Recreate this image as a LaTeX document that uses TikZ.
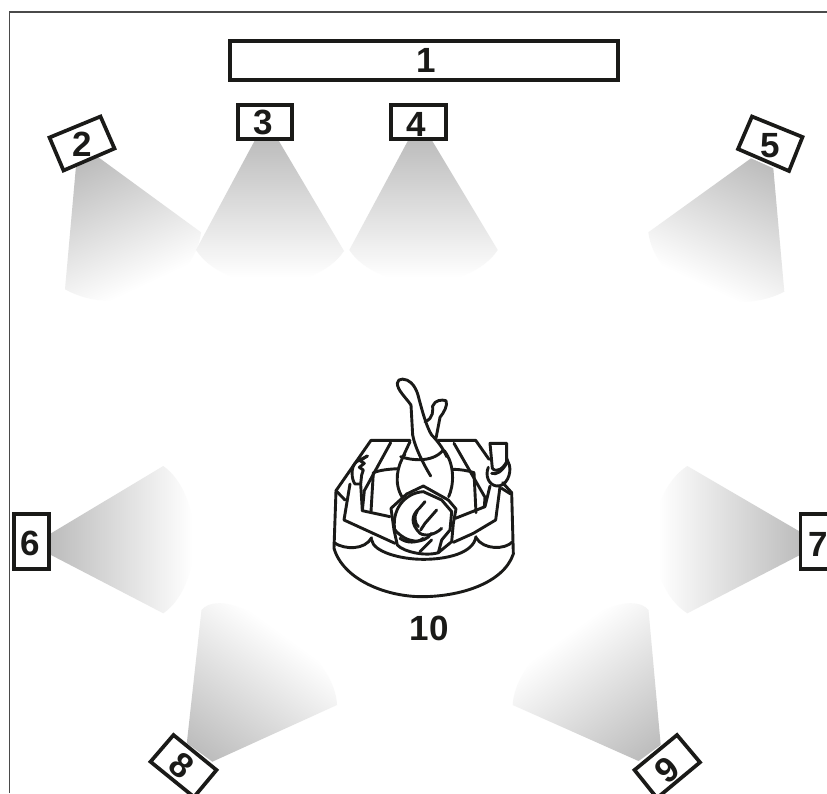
\documentclass[tikz,border=0pt]{standalone}
\usepackage{fontspec}
\setmainfont{Liberation Sans}
\definecolor{ink}{HTML}{1A1A18}
\definecolor{frameg}{HTML}{4A4A4A}
\definecolor{beamA}{gray}{0.74}
\definecolor{beamB}{gray}{0.85}
\tikzset{
  x=1pt,y=-1pt,
  spk/.style={draw=ink,line width=3.7pt,fill=white,line join=miter},
  num/.style={font=\fontsize{35}{35}\selectfont\bfseries,text=ink,inner sep=0pt},
  fig/.style={draw=ink,line width=2.9pt,line cap=round,line join=round},
}
\newcommand{\beamshape}[6]{% path, apex x, apex y, angle, length, start colour
  \begin{scope}
    \clip #1;
    \begin{scope}[transform canvas={shift={(#2,#3)},rotate=#4}]
      \shade[top color=#6,middle color=beamB,bottom color=white] (-320,0) rectangle (320,#5);
    \end{scope}
  \end{scope}
}
\begin{document}
\begin{tikzpicture}
\useasboundingbox (0,0) rectangle (827,793);
\clip (0,0) rectangle (827,793);
\fill[white] (0,0) rectangle (827,793);
\draw[frameg,line width=1.4pt] (9.5,793) -- (9.5,12) -- (827,12);

% beams
\beamshape{(76,166) -- (98,157) -- (201,232.3) .. controls (195,285) and (120,320) .. (65,289.3) -- cycle}{87}{162}{25}{136}{beamA}
\beamshape{(255,140) -- (278.3,140) -- (344,251) .. controls (315,294) and (225,294) .. (196,250) -- cycle}{267}{140}{0}{138}{beamA}
\beamshape{(408.3,140) -- (431.7,140) -- (497.7,250) .. controls (469,293) and (378,293) .. (349.3,250) -- cycle}{420}{140}{0}{138}{beamA}
\beamshape{(751,158.3) -- (773.3,168.3) -- (784.3,291.7) .. controls (730,320) and (655,285) .. (648.3,232.3) -- cycle}{762}{163}{-25}{136}{beamA}
\beamshape{(51,533.3) -- (163.3,466) .. controls (204,495) and (204,585) .. (163.3,613.3) -- (51,555) -- cycle}{51}{544}{90}{142}{beamA}
\beamshape{(800,531.7) -- (687.3,466) .. controls (643,495) and (643,585) .. (687.3,613.3) -- (800,555) -- cycle}{800}{544}{-90}{142}{beamA}
\beamshape{(186.6,745) -- (201.5,610) .. controls (208,602) and (222,602) .. (232,605) .. controls (275,618) and (335,660) .. (337,705) -- (211.7,762) -- cycle}{199}{752}{144}{145}{beamA}
\beamshape{(660.7,745) -- (648.5,610) .. controls (642,602) and (628,602) .. (618,605) .. controls (575,618) and (515,660) .. (512.7,705) -- (640.7,762) -- cycle}{651}{752}{-144}{145}{beamA}

% speakers
\draw[spk] (229.8,40.8) rectangle (617.8,80.2);
\node[num] (n1) at (426,60.5) {1};
\draw[spk] (49.5,137.5) -- (100.5,116.5) -- (114.5,148.5) -- (63.5,170.5) -- cycle;
\node[num] (n2) at (82,144.5) {2};
\draw[spk] (237.8,104.8) rectangle (291.8,138.8);
\node[num] (n3) at (263.5,122) {3};
\draw[spk] (390.8,104.8) rectangle (445.8,138.8);
\node[num] (n4) at (416.5,124) {4};
\draw[spk] (752,116.5) -- (802.5,137) -- (789,171) -- (738,149) -- cycle;
\node[num] (n5) at (770,146) {5};
\draw[spk] (13.8,513.8) rectangle (49.2,569.2);
\node[num] (n6) at (30.7,543) {6};
\draw[spk] (800.5,513.8) rectangle (840,569.2);
\node[num] (n7) at (818,544) {7};
\draw[spk] (173.5,735) -- (216.5,770) -- (194,797) -- (150.5,761.7) -- cycle;
\node[num,rotate=-40] (n8) at (181.7,765.7) {8};
\draw[spk] (677,735) -- (700,762.3) -- (657,798) -- (634.5,770) -- cycle;
\node[num,rotate=40] (n9) at (667.7,770) {9};
\node[num] (n10) at (429,628) {10};

% seated listener (coordinates taken from a 3x crop)
\begin{scope}[shift={(310,360)},x=0.33333pt,y=-0.33333pt]
  % sofa
  \draw[fig] (300,241) -- (183,241) -- (78,392) -- (72,565)
     .. controls (100,660) and (230,710) .. (335,710)
     .. controls (450,710) and (580,670) .. (610,582)
     -- (605,398) -- (578,368);
  \draw[fig] (385,241) -- (497,241) -- (537,298);
  \draw[fig] (72,548) .. controls (105,570) and (165,570) .. (185,533);
  \draw[fig] (498,533) .. controls (520,570) and (585,570) .. (608,545);
  \draw[fig] (185,540) .. controls (190,575) and (270,598) .. (340,598)
     .. controls (410,598) and (490,580) .. (498,530);
  \draw[fig] (242,248) -- (163,392) -- (157,452);
  \draw[fig] (190,338) -- (183,455);
  \draw[fig] (190,338) .. controls (210,330) and (240,327) .. (266,326);
  \draw[fig] (78,392) -- (105,420);
  \draw[fig] (432,250) -- (525,412) -- (523,440);
  \draw[fig] (430,328) .. controls (450,328) and (475,332) .. (492,338) -- (498,458);
  \draw[fig] (575,385) -- (602,402);
  % torso
  \draw[fig] (285,282) .. controls (262,315) and (250,370) .. (277,412);
  \draw[fig] (403,272) .. controls (435,315) and (432,375) .. (416,410);
  \draw[fig] (272,290) .. controls (300,300) and (365,310) .. (398,272);
  \draw[fig] (300,245) -- (280,288);
  % legs
  \draw[fig] (303,135) .. controls (285,110) and (262,90) .. (262,70)
     .. controls (262,52) and (290,55) .. (303,68)
     .. controls (325,90) and (325,115) .. (332,135)
     .. controls (340,165) and (352,205) .. (365,225)
     .. controls (380,240) and (400,265) .. (410,290);
  \draw[fig] (303,135) -- (308,225) .. controls (315,265) and (345,320) .. (362,348);
  \draw[fig] (345,185) .. controls (372,175) and (368,150) .. (368,138)
     .. controls (375,120) and (395,118) .. (408,122)
     .. controls (415,135) and (400,160) .. (390,172) -- (378,235);
  % left arm and hand with remote
  \draw[fig] (172,288) -- (150,302) -- (163,310) -- (148,322) -- (160,330) -- (155,345) -- (152,372);
  \draw[fig] (172,288) -- (140,305) .. controls (120,320) and (125,360) .. (135,372) -- (152,372);
  \draw[fig] (120,372) -- (102,480) -- (255,550);
  \draw[fig] (152,372) -- (157,452) -- (240,470);
  % right arm, hand and glass
  \draw[fig] (547,325) -- (540,250) -- (590,250) -- (590,305);
  \draw[fig] (547,325) .. controls (560,340) and (580,325) .. (590,305);
  \draw[fig] (535,322) .. controls (525,345) and (535,375) .. (560,378)
     .. controls (590,380) and (605,340) .. (598,315) -- (590,295);
  \draw[fig] (545,340) .. controls (560,345) and (575,335) .. (590,310);
  \draw[fig] (540,378) -- (525,440) -- (436,475);
  \draw[fig] (570,380) -- (557,480) -- (490,520) -- (430,547);
  % head
  \draw[fig] (340,378) -- (290,402) -- (243,445) -- (252,510) -- (262,555)
     .. controls (280,575) and (345,590) .. (385,578)
     -- (425,545) -- (430,490) -- (438,447) -- (415,420) -- cycle;
  \draw[fig] (256,520) .. controls (240,450) and (285,398) .. (340,395)
     -- (395,420) -- (425,455) -- (420,510) -- (395,540);
  \draw[fig] (345,425) -- (328,445) .. controls (305,465) and (300,490) .. (330,520)
     .. controls (345,530) and (375,525) .. (395,505);
  \draw[fig] (322,452) .. controls (310,470) and (315,490) .. (325,500);
  \draw[fig] (380,450) -- (345,490) -- (332,510);
  \draw[fig] (255,510) .. controls (290,550) and (340,555) .. (365,520);
  \draw[fig] (270,535) .. controls (290,550) and (320,550) .. (340,535);
  \draw[fig] (365,540) -- (330,575);
  \draw[fig] (395,540) -- (385,578);
\end{scope}
\end{tikzpicture}
\end{document}
